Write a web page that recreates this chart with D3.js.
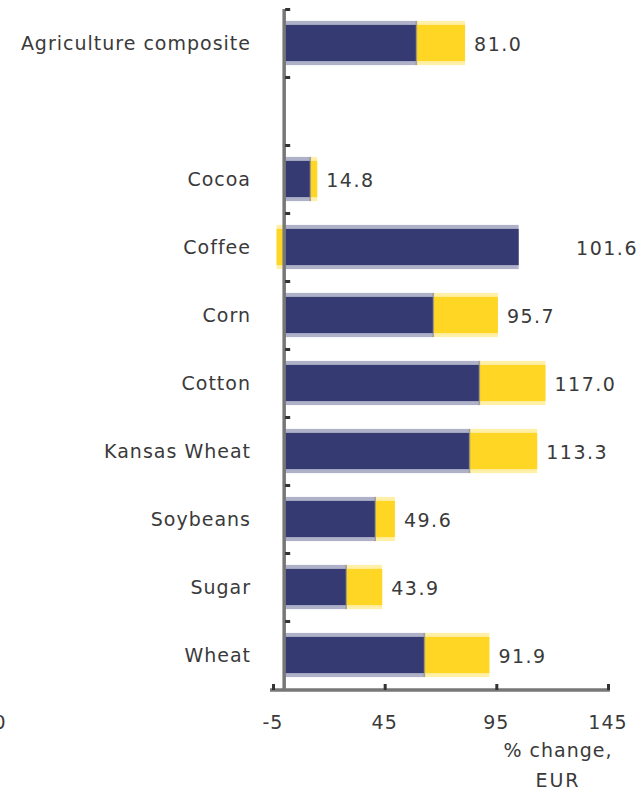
<!DOCTYPE html>
<meta charset="utf-8">
<script src="https://d3js.org/d3.v7.min.js"></script>
<style>
  body { margin: 0; background: #fff; }
  text { font-family: "DejaVu Sans", sans-serif; fill: #3a3a3a; font-size: 19px; letter-spacing: 1px; }
</style>
<body>
<svg width="641" height="796"></svg>
<script>
// categories ("" is the empty slot under the composite)
var categories = ["Agriculture composite", "", "Cocoa", "Coffee", "Corn", "Cotton", "Kansas Wheat", "Soybeans", "Sugar", "Wheat"];
// price change in local currency (dark) and currency effect (yellow), % change
var priceEffect = [59.2, null, 11.7, 105.0, 66.8, 87.4, 83.0, 40.8, 27.8, 62.8];
var fxEffect    = [21.8, null, 3.1, -3.4, 28.9, 29.6, 30.3, 8.8, 16.1, 29.1];
var totals      = [81.0, null, 14.8, 101.6, 95.7, 117.0, 113.3, 49.6, 43.9, 91.9];
var xTicks = [-5, 45, 95, 145];

var navy = "#353b72", yellow = "#ffd624";
var svg = d3.select("svg");

var x = d3.scaleLinear().domain([-5, 145]).range([273, 608]);
var pad = 0.35;
var y = d3.scaleBand().domain(categories.map(function(d, i){ return i; }))
    .range([9, 689]).paddingInner(pad).paddingOuter(pad / 2);

var rows = categories.map(function(c, i){
  return {i: i, name: c, p: priceEffect[i], f: fxEffect[i], t: totals[i]};
}).filter(function(d){ return d.t !== null; });

// bars: a faint full-height rect under a solid inset rect gives the soft edges
function segs(d){
  var out = [{x0: 0, x1: d.p, c: navy}];
  if (d.f >= 0) out.push({x0: d.p, x1: d.p + d.f, c: yellow});
  else out.push({x0: d.f, x1: 0, c: yellow});
  return out.map(function(s){ s.i = d.i; return s; });
}
var allSegs = [];
rows.forEach(function(d){ allSegs = allSegs.concat(segs(d)); });

var g = svg.append("g");
g.selectAll("rect.soft").data(allSegs).enter().append("rect")
  .attr("class", "soft")
  .attr("x", function(d){ return x(d.x0); })
  .attr("width", function(d){ return x(d.x1) - x(d.x0); })
  .attr("y", function(d){ return y(d.i); })
  .attr("height", y.bandwidth())
  .attr("fill", function(d){ return d.c; })
  .attr("fill-opacity", 0.4);
g.selectAll("rect.solid").data(allSegs).enter().append("rect")
  .attr("class", "solid")
  .attr("x", function(d){ return x(d.x0); })
  .attr("width", function(d){ return x(d.x1) - x(d.x0); })
  .attr("y", function(d){ return y(d.i) + 4; })
  .attr("height", y.bandwidth() - 8)
  .attr("fill", function(d){ return d.c; });

// thin seam between dark and yellow
g.selectAll("line.seam").data(rows.filter(function(d){ return d.f > 0; })).enter().append("line")
  .attr("x1", function(d){ return x(d.p); }).attr("x2", function(d){ return x(d.p); })
  .attr("y1", function(d){ return y(d.i); })
  .attr("y2", function(d){ return y(d.i) + y.bandwidth(); })
  .attr("stroke", "#888").attr("stroke-width", 1.5).attr("stroke-opacity", 0.7);

// y axis
svg.append("line").attr("x1", x(0)).attr("x2", x(0)).attr("y1", 9).attr("y2", 690)
  .attr("stroke", "#777").attr("stroke-width", 3.5);
var bounds = d3.range(categories.length).map(function(i){ return y(i) - y.step() * pad / 2; });
svg.selectAll("rect.ytick").data(bounds).enter().append("rect")
  .attr("x", x(0) + 1).attr("y", function(d){ return d - 1; })
  .attr("width", 5).attr("height", 3).attr("fill", "#333");

// x axis
svg.append("line").attr("x1", 270).attr("x2", 610).attr("y1", 690).attr("y2", 690)
  .attr("stroke", "#777").attr("stroke-width", 3.5);
svg.selectAll("rect.xtick").data(xTicks).enter().append("rect")
  .attr("x", function(d){ return x(d) - 1; }).attr("y", 684)
  .attr("width", 3).attr("height", 6).attr("fill", "#333");
svg.selectAll("text.xlab").data(xTicks).enter().append("text")
  .attr("x", function(d){ return x(d); }).attr("y", 729)
  .attr("text-anchor", "middle")
  .text(function(d){ return d; });

// category labels
svg.selectAll("text.cat").data(rows).enter().append("text")
  .attr("x", 251).attr("y", function(d){ return y(d.i) + y.bandwidth() / 2 + 7; })
  .attr("text-anchor", "end")
  .text(function(d){ return d.name; });

// value labels
svg.selectAll("text.val").data(rows).enter().append("text")
  .attr("x", function(d){ return d.f < 0 ? x(145) + 30 : x(d.t) + 9; })
  .attr("y", function(d){ return y(d.i) + y.bandwidth() / 2 + 8; })
  .attr("text-anchor", function(d){ return d.f < 0 ? "end" : "start"; })
  .style("letter-spacing", "1.5px")
  .text(function(d){ return d.t.toFixed(1); });

// axis title
svg.append("text").attr("x", 558).attr("y", 757).attr("text-anchor", "middle")
  .text("% change,");
svg.append("text").attr("x", 558).attr("y", 787).attr("text-anchor", "middle")
  .style("letter-spacing", "2px").text("EUR");

// clipped tick label from neighbouring panel
svg.append("text").attr("x", 0).attr("y", 729).attr("text-anchor", "middle")
  .text("0");
</script>
